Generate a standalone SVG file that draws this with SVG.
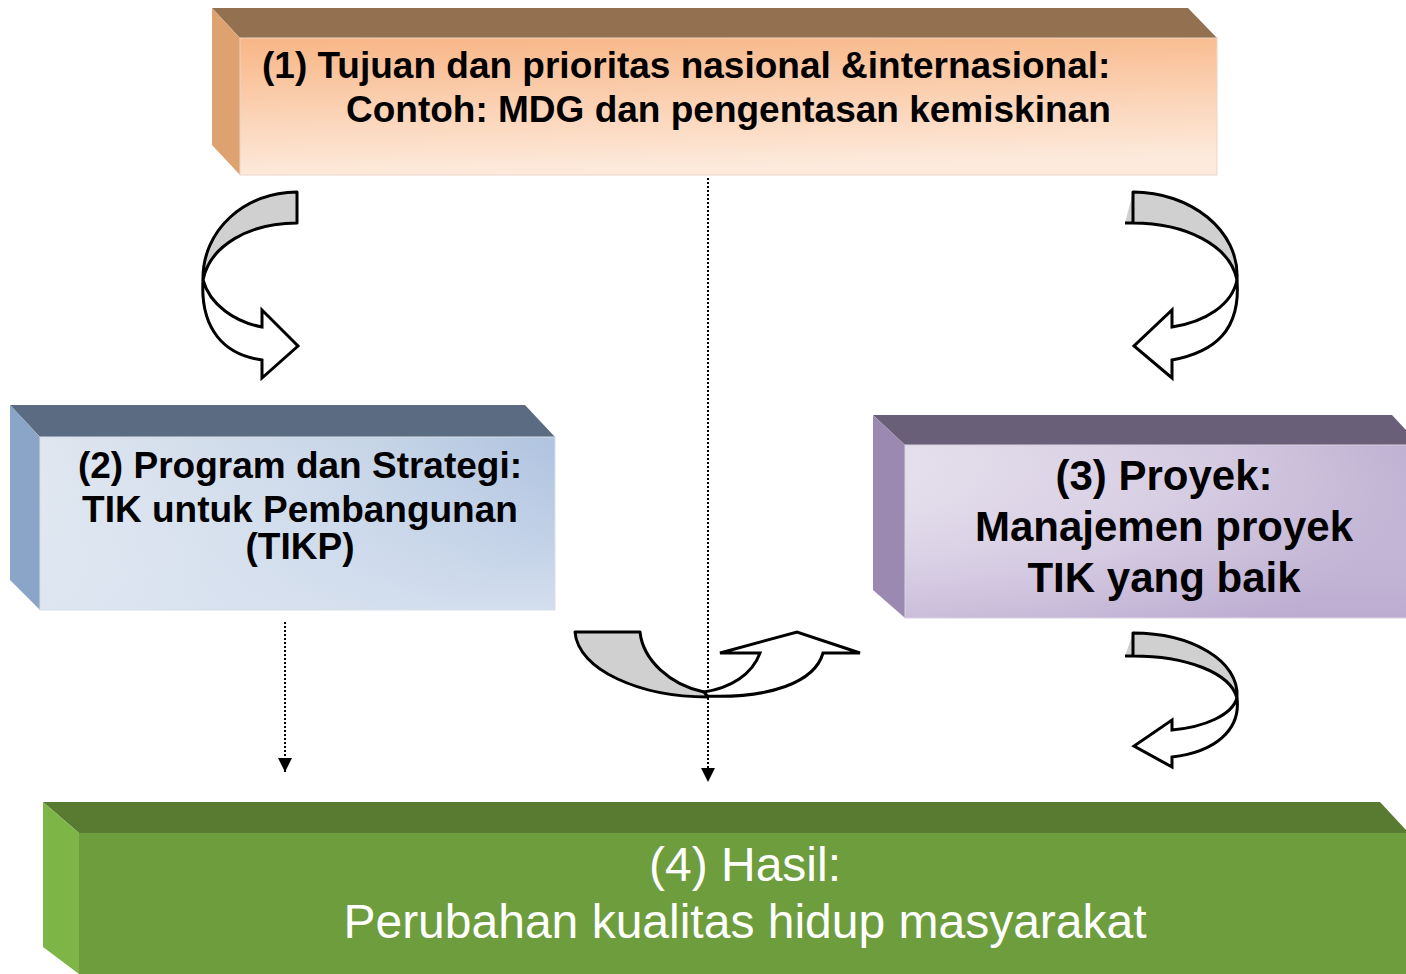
<svg xmlns="http://www.w3.org/2000/svg" width="1406" height="974" viewBox="0 0 1406 974">
  <defs>
    <linearGradient id="g1front" x1="0" y1="0" x2="0.15" y2="1">
      <stop offset="0" stop-color="#f8b585"/>
      <stop offset="0.55" stop-color="#fbd3b6"/>
      <stop offset="1" stop-color="#fdeadc"/>
    </linearGradient>
    <linearGradient id="g2front" x1="0" y1="0" x2="1" y2="0.6">
      <stop offset="0" stop-color="#dfe6ef"/>
      <stop offset="0.5" stop-color="#c4d3e6"/>
      <stop offset="1" stop-color="#98b2d8"/>
    </linearGradient>
    <linearGradient id="g2shade" x1="0" y1="0" x2="0" y2="1">
      <stop offset="0" stop-color="#ffffff" stop-opacity="0"/>
      <stop offset="1" stop-color="#e2e9f3" stop-opacity="0.8"/>
    </linearGradient>
    <linearGradient id="g3front" x1="0" y1="0" x2="1" y2="0.4">
      <stop offset="0" stop-color="#e4dfec"/>
      <stop offset="0.55" stop-color="#d3c9e0"/>
      <stop offset="1" stop-color="#b6a6cc"/>
    </linearGradient>
    <linearGradient id="g3shade" x1="0" y1="0" x2="0" y2="1">
      <stop offset="0" stop-color="#ffffff" stop-opacity="0"/>
      <stop offset="1" stop-color="#c0b0d4" stop-opacity="0.6"/>
    </linearGradient>
    <marker id="tri" viewBox="0 0 10 10" refX="10" refY="5" markerWidth="14" markerHeight="14" markerUnits="userSpaceOnUse" orient="auto">
      <path d="M0,0 L10,5 L0,10 Z" fill="#000"/>
    </marker>
  </defs>
  <style>
    .lbl { font-family: "Liberation Sans", Arial, sans-serif; font-weight: bold; fill: #000; }
    .lblw { font-family: "Liberation Sans", Arial, sans-serif; fill: #fff; }
    .band { fill: #d0d0d0; stroke: #000; stroke-width: 3; stroke-linejoin: round; }
    .head { fill: #fff; stroke: #000; stroke-width: 3; stroke-linejoin: miter; }
    .dots { fill: none; stroke: #000; stroke-width: 2; stroke-dasharray: 2 2; }
  </style>
  <rect width="1406" height="974" fill="#fff"/>

  <!-- (1) goals box -->
  <g id="node-goals">
    <polygon points="212,8 1188,8 1217,38 240,38" fill="#93704f"/>
    <polygon points="212,8 240,38 240,175 212,145" fill="#dea271"/>
    <rect x="240" y="38" width="977" height="137" fill="url(#g1front)" stroke="#e9d6c8" stroke-width="1"/>
    <text class="lbl" font-size="37" x="262" y="78">(1) Tujuan dan prioritas nasional &amp;internasional:</text>
    <text class="lbl" font-size="37" x="346" y="122">Contoh: MDG dan pengentasan kemiskinan</text>
  </g>

  <!-- (2) programme box -->
  <g id="node-program">
    <polygon points="10,405 525,405 555,437 40,437" fill="#5a6b82"/>
    <polygon points="10,405 40,437 40,610 10,580" fill="#8ba5c9"/>
    <rect x="40" y="437" width="515" height="173" fill="url(#g2front)"/>
    <rect x="40" y="437" width="515" height="173" fill="url(#g2shade)" stroke="#d8dee6" stroke-width="1"/>
    <text class="lbl" font-size="37" text-anchor="middle" x="300" y="478">(2) Program dan Strategi:</text>
    <text class="lbl" font-size="37" text-anchor="middle" x="300" y="522">TIK untuk Pembangunan</text>
    <text class="lbl" font-size="37" text-anchor="middle" x="300" y="559">(TIKP)</text>
  </g>

  <!-- (3) project box -->
  <g id="node-project">
    <polygon points="873,415 1392,415 1406,430 1406,445 905,445" fill="#6a5f78"/>
    <polygon points="873,415 905,445 905,618 873,590" fill="#9b89b2"/>
    <rect x="905" y="445" width="502" height="173" fill="url(#g3front)"/>
    <rect x="905" y="445" width="502" height="173" fill="url(#g3shade)" stroke="#d8d2e0" stroke-width="1"/>
    <text class="lbl" font-size="42" text-anchor="middle" x="1164" y="490">(3) Proyek:</text>
    <text class="lbl" font-size="42" text-anchor="middle" x="1164" y="541">Manajemen proyek</text>
    <text class="lbl" font-size="42" text-anchor="middle" x="1164" y="592">TIK yang baik</text>
  </g>

  <!-- (4) outcome box -->
  <g id="node-outcome">
    <polygon points="43,802 1380,802 1406,830 1406,833 79,833" fill="#587b31"/>
    <polygon points="43,802 79,833 79,974 43,947" fill="#7db546"/>
    <rect x="79" y="833" width="1327" height="141" fill="#6e9d3e"/>
    <text class="lblw" font-size="48" text-anchor="middle" x="745" y="881">(4) Hasil:</text>
    <text class="lblw" font-size="48" text-anchor="middle" x="745" y="938">Perubahan kualitas hidup masyarakat</text>
  </g>

  <!-- connectors -->
  <g id="connectors">
    <!-- dotted drop lines -->
    <line class="dots" x1="708" y1="178" x2="708" y2="782" marker-end="url(#tri)"/>
    <line class="dots" x1="285" y1="622" x2="285" y2="772" marker-end="url(#tri)"/>

    <!-- curved arrow: goals to programme -->
    <g id="arrow-goals-program">
      <path class="head" d="M203,280 C200,330 225,355 262,360 L262,378 L298,346 L262,310 L262,327 C235,322 210,305 203,280 Z"/>
      <path class="band" d="M297,192 L297,223 C250,223 210,245 203,280 C202,230 245,192 297,192 Z"/>
    </g>

    <!-- curved arrow: goals to project -->
    <g id="arrow-goals-project">
      <path class="head" d="M1237,280 C1241,330 1215,352 1172,360 L1172,378 L1134,346 L1172,310 L1172,327 C1205,322 1232,305 1237,280 Z"/>
      <path class="band" d="M1133,192 L1133,223 L1125,223 M1133,223 C1185,223 1230,245 1237,280 C1240,230 1190,192 1133,192 Z"/>
    </g>

    <!-- curved arrow: programme to project -->
    <g id="arrow-program-project">
      <path class="head" d="M704,696 C770,699 815,682 823,653 L860,653 L797,632 L720,653 L760,653 C752,675 730,688 704,692 Z"/>
      <path class="band" d="M575,632 L640,632 C643,660 670,685 704,692 L708,697 C640,697 578,670 575,632 Z"/>
    </g>

    <!-- curved arrow: project to outcome -->
    <g id="arrow-project-outcome">
      <path class="head" d="M1237,698 C1241,730 1215,752 1172,757 L1172,767 L1134,746 L1172,720 L1172,730 C1205,727 1232,715 1237,698 Z"/>
      <path class="band" d="M1133,633 L1133,656 L1125,656 M1133,656 C1185,656 1230,672 1237,698 C1240,660 1190,633 1133,633 Z"/>
    </g>
  </g>
</svg>
